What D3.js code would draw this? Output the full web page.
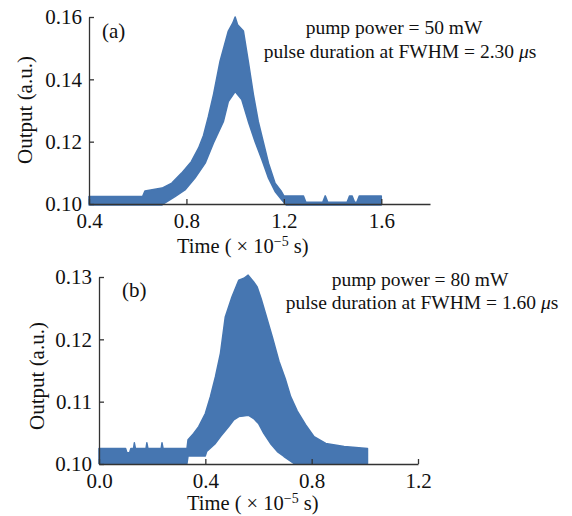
<!DOCTYPE html>
<html>
<head>
<meta charset="utf-8">
<script src="https://cdn.jsdelivr.net/npm/d3@7"></script>
<style>
  body { margin: 0; background: #fff; }
  svg text { font-family: "Liberation Serif", "Times New Roman", Times, serif; }
</style>
</head>
<body>
<div id="chart"></div>
<script>
// envelope of the noisy trace: [time (x1e-5 s), output (a.u.)]
const upperA = [[0.40,0.1024],[0.62,0.1024],[0.63,0.1042],[0.70,0.1051],[0.74,0.1067],[0.78,0.1099],[0.82,0.1136],[0.85,0.1180],[0.87,0.1220],[0.89,0.1280],[0.911,0.1351],[0.938,0.1458],[0.972,0.1555],[0.99,0.1580],[1.00,0.1600],[1.01,0.1575],[1.034,0.1555],[1.054,0.1458],[1.075,0.1351],[1.095,0.1265],[1.11,0.1217],[1.137,0.1131],[1.164,0.1067],[1.19,0.1040],[1.20,0.1026],[1.28,0.1026],[1.29,0.1006],[1.36,0.1006],[1.37,0.1026],[1.38,0.1006],[1.46,0.1006],[1.47,0.1026],[1.48,0.1026],[1.49,0.1006],[1.50,0.1006],[1.51,0.1026],[1.60,0.1026]];
const lowerA = [[0.40,0.0997],[0.70,0.0997],[0.712,0.1004],[0.753,0.1024],[0.794,0.1045],[0.835,0.1083],[0.877,0.1131],[0.911,0.1196],[0.952,0.1265],[0.972,0.1329],[1.00,0.1361],[1.027,0.1335],[1.054,0.1265],[1.082,0.1200],[1.11,0.1142],[1.137,0.1083],[1.164,0.1040],[1.192,0.1013],[1.21,0.0997],[1.60,0.0997]];

const upperB = [[0.00,0.1025],[0.10,0.1025],[0.105,0.1018],[0.115,0.1018],[0.12,0.1025],[0.13,0.1025],[0.133,0.1034],[0.137,0.1025],[0.177,0.1025],[0.18,0.1034],[0.184,0.1025],[0.234,0.1025],[0.237,0.1034],[0.241,0.1025],[0.331,0.1025],[0.335,0.1039],[0.356,0.1049],[0.375,0.1060],[0.40,0.1081],[0.419,0.1108],[0.438,0.1140],[0.457,0.1178],[0.475,0.1236],[0.50,0.1268],[0.526,0.1295],[0.545,0.1298],[0.561,0.1303],[0.582,0.1292],[0.595,0.1284],[0.61,0.1265],[0.626,0.1242],[0.652,0.1204],[0.677,0.1165],[0.702,0.1135],[0.721,0.1108],[0.746,0.1085],[0.777,0.1063],[0.809,0.1044],[0.853,0.1033],[0.922,0.1028],[1.01,0.1025]];
const lowerB = [[0.00,0.1001],[0.331,0.1001],[0.335,0.1013],[0.40,0.1013],[0.405,0.1020],[0.438,0.1033],[0.457,0.1044],[0.488,0.1060],[0.507,0.1071],[0.526,0.1076],[0.563,0.1078],[0.582,0.1073],[0.60,0.1065],[0.62,0.1049],[0.645,0.1033],[0.671,0.1020],[0.696,0.1012],[0.733,0.1001],[1.01,0.1001]];

// tick labels
const xTicksA = [0.4, 0.8, 1.2, 1.6];
const yTicksA = [0.10, 0.12, 0.14, 0.16];
const xTicksB = [0.0, 0.4, 0.8, 1.2];
const yTicksB = [0.10, 0.11, 0.12, 0.13];

const azul = "#4676b1";
const fonte = '"Liberation Serif", "Times New Roman", Times, serif';

const svg = d3.select("#chart").append("svg")
    .attr("width", 572)
    .attr("height", 516);

function painel(p) {
    const x = d3.scaleLinear().domain(p.xDom).range(p.xRange);
    const y = d3.scaleLinear().domain(p.yDom).range(p.yRange);

    // faixa do sinal: envelope superior e volta pelo inferior
    const linha = d3.line().x(d => x(d[0])).y(d => y(d[1]));
    svg.append("path")
        .attr("d", linha(p.upper.concat(p.lower.slice().reverse())) + "Z")
        .attr("fill", azul)
        .attr("stroke", azul)
        .attr("stroke-width", 1.5)
        .attr("stroke-linejoin", "round");

    const eixoX = svg.append("g")
        .attr("transform", `translate(0,${p.yRange[0]})`)
        .call(d3.axisBottom(x).tickValues(p.xTicks).tickFormat(d3.format(".1f"))
            .tickSizeInner(-5).tickSizeOuter(0).tickPadding(9));
    const eixoY = svg.append("g")
        .attr("transform", `translate(${p.xRange[0]},0)`)
        .call(d3.axisLeft(y).tickValues(p.yTicks).tickFormat(d3.format(p.yFmt))
            .tickSizeInner(-5).tickSizeOuter(0).tickPadding(7));

    [eixoX, eixoY].forEach(g => {
        g.attr("font-family", fonte).attr("font-size", 21);
        g.select(".domain").attr("stroke", "#333").attr("stroke-width", 1.3);
        g.selectAll(".tick line").attr("stroke", "#333").attr("stroke-width", 1.3);
        g.selectAll(".tick text").attr("fill", "#111");
    });

    // titulo do eixo x
    const tx = svg.append("text")
        .attr("x", p.xTitle[0]).attr("y", p.xTitle[1])
        .attr("fill", "#111")
        .style("font-size", "20.5px");
    tx.append("tspan").text("Time ( \u00d7 10");
    tx.append("tspan").attr("dy", -7).style("font-size", "14px").text("\u22125");
    tx.append("tspan").attr("dy", 7).text(" s)");

    // titulo do eixo y
    svg.append("text")
        .attr("transform", `translate(${p.yTitle[0]},${p.yTitle[1]}) rotate(-90)`)
        .attr("text-anchor", "middle")
        .attr("dy", "0.35em")
        .attr("fill", "#111")
        .style("font-size", "21px")
        .text("Output (a.u.)");

    // letra do painel
    svg.append("text")
        .attr("x", p.letra[0]).attr("y", p.letra[1])
        .attr("fill", "#111")
        .style("font-size", "21px")
        .text(p.nome);

    // anotacoes
    svg.append("text")
        .attr("x", p.nota1[0]).attr("y", p.nota1[1])
        .attr("text-anchor", "middle")
        .attr("fill", "#111")
        .style("font-size", "19.5px")
        .text(`pump power = ${p.potencia} mW`);
    const n2 = svg.append("text")
        .attr("x", p.nota2[0]).attr("y", p.nota2[1])
        .attr("text-anchor", "middle")
        .attr("fill", "#111")
        .style("font-size", "19.5px");
    n2.append("tspan").text(`pulse duration at FWHM = ${p.fwhm} `);
    n2.append("tspan").style("font-style", "italic").text("\u03bc");
    n2.append("tspan").text("s");
}

painel({
    upper: upperA, lower: lowerA,
    xDom: [0.4, 1.8], xRange: [89, 430],
    yDom: [0.10, 0.16], yRange: [204, 17],
    xTicks: xTicksA, yTicks: yTicksA, yFmt: ".2f",
    xTitle: [177, 253], yTitle: [25, 110],
    letra: [102, 38], nome: "(a)",
    nota1: [394, 34], nota2: [400, 58],
    potencia: 50, fwhm: "2.30"
});

painel({
    upper: upperB, lower: lowerB,
    xDom: [0.0, 1.2], xRange: [99, 418],
    yDom: [0.10, 0.13], yRange: [464, 277],
    xTicks: xTicksB, yTicks: yTicksB, yFmt: ".2f",
    xTitle: [187, 510], yTitle: [37, 376],
    letra: [122, 297], nome: "(b)",
    nota1: [420, 286], nota2: [422, 309],
    potencia: 80, fwhm: "1.60"
});
</script>
</body>
</html>
